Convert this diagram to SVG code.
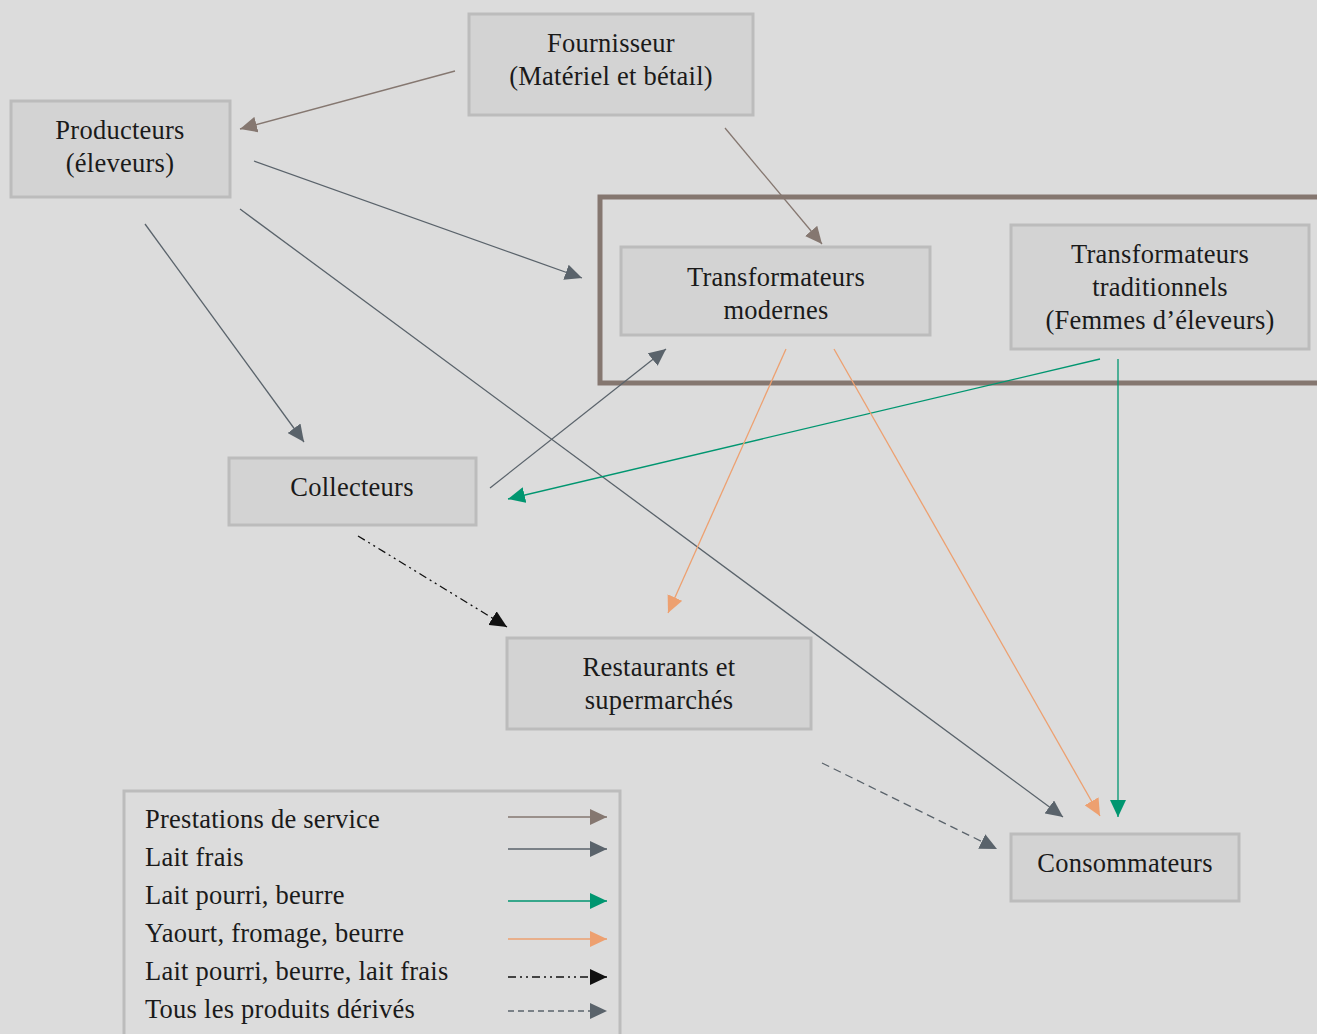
<svg xmlns="http://www.w3.org/2000/svg" width="1317" height="1034" viewBox="0 0 1317 1034">
<style>
.node{fill:#d3d3d3;stroke:#bcbcbc;stroke-width:3}
.t{font-family:"Liberation Serif","Times New Roman",serif;font-size:26.5px;letter-spacing:0.25px;fill:#1a1a1a;text-anchor:middle}
.lt{font-family:"Liberation Serif","Times New Roman",serif;font-size:26.5px;letter-spacing:0.25px;fill:#1a1a1a}
.c{fill:none;stroke-width:1.3}
.brown{stroke:#857770}
.slate{stroke:#5a636b}
.green{stroke:#009670}
.orange{stroke:#eda070}
.black{stroke:#111}
</style>
<defs>
<marker id="mBrown" markerUnits="userSpaceOnUse" markerWidth="18" markerHeight="16" refX="17" refY="8" orient="auto"><path d="M0,0L17,8L0,16z" fill="#857770"/></marker>
<marker id="mSlate" markerUnits="userSpaceOnUse" markerWidth="18" markerHeight="16" refX="17" refY="8" orient="auto"><path d="M0,0L17,8L0,16z" fill="#5a636b"/></marker>
<marker id="mGreen" markerUnits="userSpaceOnUse" markerWidth="18" markerHeight="16" refX="17" refY="8" orient="auto"><path d="M0,0L17,8L0,16z" fill="#009670"/></marker>
<marker id="mOrange" markerUnits="userSpaceOnUse" markerWidth="18" markerHeight="16" refX="17" refY="8" orient="auto"><path d="M0,0L17,8L0,16z" fill="#eda070"/></marker>
<marker id="mBlack" markerUnits="userSpaceOnUse" markerWidth="18" markerHeight="16" refX="17" refY="8" orient="auto"><path d="M0,0L17,8L0,16z" fill="#111"/></marker>
</defs>
<rect width="1317" height="1034" fill="#dcdcdc"/>

<g id="groupe-transformateurs">
<rect x="600" y="197" width="730" height="186" fill="none" stroke="#857770" stroke-width="5"/>
</g>

<g id="fournisseur">
<rect class="node" x="469" y="14" width="284" height="101"/>
<text class="t" x="611" y="52">Fournisseur</text>
<text class="t" x="611" y="85">(Matériel et bétail)</text>
</g>
<g id="producteurs">
<rect class="node" x="11" y="101" width="219" height="96"/>
<text class="t" x="120" y="139">Producteurs</text>
<text class="t" x="120" y="172">(éleveurs)</text>
</g>
<g id="transformateurs-modernes">
<rect class="node" x="621" y="247" width="309" height="88"/>
<text class="t" x="776" y="286">Transformateurs</text>
<text class="t" x="776" y="319">modernes</text>
</g>
<g id="transformateurs-traditionnels">
<rect class="node" x="1011" y="225" width="298" height="124"/>
<text class="t" x="1160" y="263">Transformateurs</text>
<text class="t" x="1160" y="296">traditionnels</text>
<text class="t" x="1160" y="329">(Femmes d’éleveurs)</text>
</g>
<g id="collecteurs">
<rect class="node" x="229" y="458" width="247" height="67"/>
<text class="t" x="352" y="496">Collecteurs</text>
</g>
<g id="restaurants">
<rect class="node" x="507" y="638" width="304" height="91"/>
<text class="t" x="659" y="676">Restaurants et</text>
<text class="t" x="659" y="709">supermarchés</text>
</g>
<g id="consommateurs">
<rect class="node" x="1011" y="834" width="228" height="67"/>
<text class="t" x="1125" y="872">Consommateurs</text>
</g>

<g id="connecteurs">
<line class="c brown" x1="455" y1="71" x2="240" y2="129" marker-end="url(#mBrown)"/>
<line class="c brown" x1="725" y1="128" x2="822" y2="244" marker-end="url(#mBrown)"/>
<line class="c slate" x1="254" y1="161" x2="582" y2="278" marker-end="url(#mSlate)"/>
<line class="c slate" x1="145" y1="224" x2="304" y2="442" marker-end="url(#mSlate)"/>
<line class="c slate" x1="240" y1="209" x2="1063" y2="817" marker-end="url(#mSlate)"/>
<line class="c slate" x1="490" y1="488" x2="666" y2="349" marker-end="url(#mSlate)"/>
<line class="c green" x1="1100" y1="359" x2="508" y2="499" marker-end="url(#mGreen)"/>
<line class="c green" x1="1118" y1="359" x2="1118" y2="817" marker-end="url(#mGreen)"/>
<line class="c orange" x1="786" y1="349" x2="668" y2="613" marker-end="url(#mOrange)"/>
<line class="c orange" x1="834" y1="349" x2="1100" y2="816" marker-end="url(#mOrange)"/>
<line class="c black" x1="358" y1="536" x2="507" y2="627" stroke-dasharray="8,4,2,4,2,4" marker-end="url(#mBlack)"/>
<line class="c slate" x1="822" y1="763" x2="997" y2="849" stroke-dasharray="8,5" marker-end="url(#mSlate)"/>
</g>

<g id="legende">
<rect x="124" y="791" width="496" height="260" fill="#dcdcdc" stroke="#bcbcbc" stroke-width="3"/>
<text class="lt" x="145" y="828">Prestations de service</text>
<text class="lt" x="145" y="866">Lait frais</text>
<text class="lt" x="145" y="904">Lait pourri, beurre</text>
<text class="lt" x="145" y="942">Yaourt, fromage, beurre</text>
<text class="lt" x="145" y="980">Lait pourri, beurre, lait frais</text>
<text class="lt" x="145" y="1018">Tous les produits dérivés</text>
<line class="c brown" x1="508" y1="817" x2="607" y2="817" marker-end="url(#mBrown)"/>
<line class="c slate" x1="508" y1="849" x2="607" y2="849" marker-end="url(#mSlate)"/>
<line class="c green" x1="508" y1="901" x2="607" y2="901" marker-end="url(#mGreen)"/>
<line class="c orange" x1="508" y1="939" x2="607" y2="939" marker-end="url(#mOrange)"/>
<line class="c black" x1="508" y1="977" x2="607" y2="977" stroke-dasharray="8,4,2,4,2,4" marker-end="url(#mBlack)"/>
<line class="c slate" x1="508" y1="1011" x2="607" y2="1011" stroke-dasharray="6,4" marker-end="url(#mSlate)"/>
</g>
</svg>
